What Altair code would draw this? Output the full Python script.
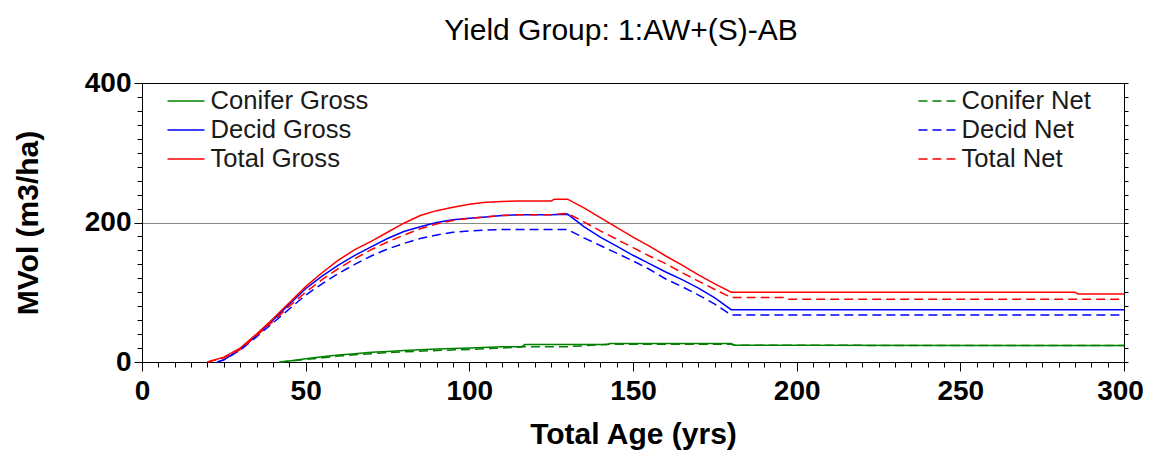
import altair as alt
import pandas as pd

# ---------------- data ----------------
title_text = "Yield Group: 1:AW+(S)-AB"

gross_names = ["Conifer Gross", "Decid Gross", "Total Gross"]
net_names = ["Conifer Net", "Decid Net", "Total Net"]
line_colors = ["#008000", "#0000ff", "#ff0000"]

conifer_gross_age = [42, 45, 50, 55, 60, 65, 70, 75, 80, 90, 100, 110, 116, 117, 130, 142, 143, 180, 181, 300]
conifer_gross = [0, 1.5, 4.5, 7.5, 10, 12, 14, 15, 16.5, 18.5, 20, 22, 22, 25, 25, 25, 26.5, 26.5, 24, 23.5]

decid_gross_age = [23, 25, 30, 35, 40, 45, 50, 55, 60, 65, 70, 75, 80, 85, 90, 95, 100, 105, 110, 115, 120,
                   125, 130, 135, 140, 145, 150, 155, 160, 165, 170, 175, 180, 300]
decid_gross = [0, 3, 18, 38, 60, 83, 105, 123, 139, 153, 165, 177, 187, 194, 200, 204, 206, 208, 210, 211, 211,
               211, 212, 194, 179, 166, 153, 141, 129, 118, 106, 92, 75, 75]

total_gross_age = [20, 25, 30, 35, 40, 45, 50, 55, 60, 65, 70, 75, 80, 85, 90, 95, 100, 105, 110, 115, 120,
                   125, 126, 130, 135, 140, 145, 150, 155, 160, 165, 170, 175, 180, 285, 286, 300]
total_gross = [0, 7, 20, 40, 62, 85, 108, 128, 146, 161, 173, 186, 199, 210, 217, 222, 226, 229, 230, 231, 231,
               231, 233.5, 233.5, 221, 207, 193, 179, 166, 152, 139, 125, 112, 100, 100, 97.5, 97.5]

conifer_net_age = [42, 50, 60, 70, 80, 90, 100, 110, 117, 130, 143, 180, 181, 300]
conifer_net = [0, 3.5, 8.5, 12, 14.5, 16.5, 18, 20, 22, 22, 25.3, 25.3, 24, 23.5]

decid_net_age = [23, 25, 30, 35, 40, 45, 50, 55, 60, 65, 70, 75, 80, 85, 90, 95, 100, 105, 110, 115, 120,
                 125, 130, 135, 140, 145, 150, 155, 160, 165, 170, 175, 180, 300]
decid_net = [0, 3, 17, 36, 56, 76, 96, 112, 127, 140, 152, 162, 170, 177, 182, 186, 188, 189, 190, 190, 190,
             190, 190, 178, 167, 156, 145, 133, 119, 108, 96, 83, 67.5, 67.5]

total_net_age = [20, 25, 30, 35, 40, 45, 50, 55, 60, 65, 70, 75, 80, 85, 90, 95, 100, 105, 110, 115, 120,
                 125, 130, 135, 140, 145, 150, 155, 160, 165, 170, 175, 180, 196, 197, 300]
total_net = [0, 6, 18, 38, 58, 80, 100, 118, 134, 148, 161, 172, 182, 191, 198, 203, 206, 208, 210, 211, 211,
             211, 213, 201, 188, 176, 164, 152, 141, 128, 116, 104, 92.5, 92.5, 90, 90]

x_ticks = list(range(0, 301, 5))
y_ticks = list(range(0, 401, 20))


def long_frame(names, ages, vals):
    rows = []
    for n, a_list, v_list in zip(names, ages, vals):
        for a, v in zip(a_list, v_list):
            rows.append({"age": a, "vol": v, "series": n})
    return pd.DataFrame(rows)


gross_df = long_frame(gross_names, [conifer_gross_age, decid_gross_age, total_gross_age],
                      [conifer_gross, decid_gross, total_gross])
net_df = long_frame(net_names, [conifer_net_age, decid_net_age, total_net_age],
                    [conifer_net, decid_net, total_net])

FONT = "Liberation Sans"
DASH = [9, 5]

x_axis = alt.Axis(
    values=x_ticks,
    labelExpr="datum.value % 50 === 0 ? datum.label : ''",
    labelOverlap=False,
    labelFlush=False,
    labelFontSize=28,
    labelFontWeight="bold",
    labelColor="black",
    labelPadding=6,
    labelOffset={"condition": {"test": "datum.value === 300", "value": -4}, "value": 0},
    tickSize={"condition": {"test": "datum.value % 50 === 0", "value": 9}, "value": 5},
    tickColor="black",
    domainColor="black",
    grid=False,
    title="Total Age (yrs)",
    titleFontSize=30,
    titleFontWeight="bold",
    titleColor="black",
    titleBaseline="alphabetic",
    titleY=81,
)

y_axis_left = alt.Axis(
    values=y_ticks,
    labelExpr="datum.value % 200 === 0 ? datum.label : ''",
    labelOverlap=False,
    labelFlush=False,
    labelFontSize=28,
    labelFontWeight="bold",
    labelColor="black",
    labelPadding=3,
    tickSize={"condition": {"test": "datum.value % 200 === 0", "value": 8}, "value": 5},
    tickColor="black",
    domainColor="black",
    grid=True,
    gridColor="#888888",
    gridOpacity={"condition": {"test": "datum.value === 200", "value": 1}, "value": 0},
    title="MVol (m3/ha)",
    titleFontSize=30,
    titleFontWeight="bold",
    titleColor="black",
    titleBaseline="middle",
    titleX=-114,
)

y_axis_right = alt.Axis(
    orient="right",
    values=y_ticks,
    labels=False,
    tickSize=4,
    tickColor="black",
    domainColor="black",
    grid=False,
    title=None,
)

legend_common = dict(
    title=None,
    orient="none",
    symbolType="M-1.3,0H1.3",
    symbolSize=812,
    symbolStrokeWidth=1.5,
    labelFontSize=25.6,
    labelFont=FONT,
    labelColor="#1a1a1a",
    labelOffset=9.5,
    rowPadding=0,
    padding=0,
)

gross_legend = alt.Legend(legendX=29, legendY=3, **legend_common)
net_legend = alt.Legend(legendX=780, legendY=3, symbolDash=DASH, **legend_common)

x_enc = alt.X("age:Q", scale=alt.Scale(domain=[0, 300], nice=False, zero=False), axis=x_axis)

gross = alt.Chart(gross_df).mark_line(strokeWidth=1.5).encode(
    x=x_enc,
    y=alt.Y("vol:Q", scale=alt.Scale(domain=[0, 400], nice=False), axis=y_axis_left),
    color=alt.Color("series:N", scale=alt.Scale(domain=gross_names, range=line_colors), legend=gross_legend),
)

net = alt.Chart(net_df).mark_line(strokeWidth=1.5, strokeDash=DASH).encode(
    x=x_enc,
    y=alt.Y("vol:Q", scale=alt.Scale(domain=[0, 400], nice=False), axis=y_axis_right),
    color=alt.Color("series:N", scale=alt.Scale(domain=net_names, range=line_colors), legend=net_legend),
)

chart = (
    alt.layer(gross, net)
    .resolve_scale(color="independent")
    .resolve_axis(y="independent")
    .resolve_legend(color="independent")
    .properties(
        width=982,
        height=279,
        autosize=alt.AutoSizeParams(type="none"),
        padding={"left": 134, "top": 75, "right": 20, "bottom": 88},
        title=alt.TitleParams(
            text=title_text,
            fontSize=30,
            font=FONT,
            fontWeight="normal",
            color="black",
            anchor="middle",
            frame="group",
            dx=-12,
            offset=23,
        ),
    )
    .configure(font=FONT)
    .configure_view(stroke="black", strokeWidth=1)
)

chart.save("out.html", embed_options={"renderer": "svg", "actions": False})
